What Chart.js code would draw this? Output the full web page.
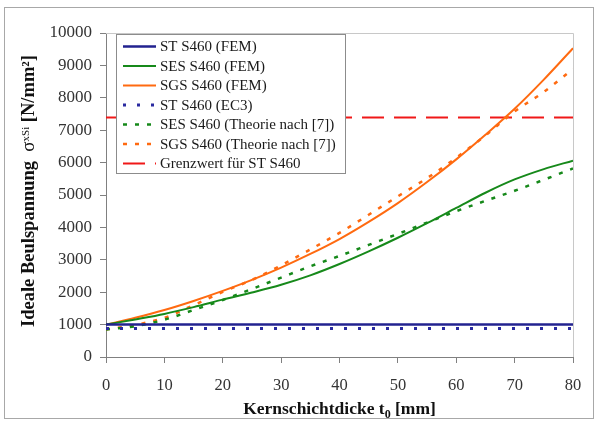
<!DOCTYPE html>
<html lang="de">
<head>
    <meta charset="UTF-8">
    <title>Ideale Beulspannung</title>
    <style>
        body, html {
            margin: 0;
            padding: 0;
            background: #ffffff;
            overflow: hidden;
        }
        #wrap {
            width: 599px;
            height: 423px;
        }
    </style>
</head>
<body>

<div id="wrap">
    <canvas id="chart" width="599" height="423"></canvas>
</div>

<script src="https://cdn.jsdelivr.net/npm/chart.js"></script>
<script>
    // Kernschichtdicke t0 [mm]
    const thickness = [0, 5, 10, 15, 20, 25, 30, 35, 40, 45, 50, 55, 60, 65, 70, 75, 80];

    // FEM results
    const stFem  = [1000, 1000, 1000, 1000, 1000, 1000, 1000, 1000, 1000, 1000, 1000, 1000, 1000, 1000, 1000, 1000, 1000];
    const sesFem = [1000, 1160, 1330, 1540, 1770, 1990, 2230, 2520, 2870, 3260, 3680, 4130, 4600, 5070, 5480, 5800, 6060];
    const sgsFem = [1000, 1210, 1450, 1730, 2040, 2380, 2760, 3180, 3640, 4170, 4750, 5400, 6100, 6860, 7660, 8560, 9530];

    // EC3 / theory
    const stEc3    = [880, 880, 880, 880, 880, 880, 880, 880, 880, 880, 880, 880, 880, 880, 880, 880, 880];
    const sesTheo  = [850, 950, 1150, 1450, 1760, 2100, 2450, 2800, 3120, 3460, 3800, 4150, 4500, 4820, 5130, 5470, 5820];
    const sgsTheo  = [850, 990, 1210, 1600, 2010, 2380, 2830, 3320, 3830, 4390, 4960, 5520, 6150, 6840, 7580, 8180, 8890];

    // Grenzwert
    const limitX = [0, 80];
    const limitY = [7390, 7390];

    const yTicks = [0, 1000, 2000, 3000, 4000, 5000, 6000, 7000, 8000, 9000, 10000];
    const xTicks = [0, 10, 20, 30, 40, 50, 60, 70, 80];

    const serif = "'Liberation Serif', 'Times New Roman', serif";

    function pts(xs, ys) {
        return xs.map((x, i) => ({ x: x, y: ys[i] }));
    }

    function line(label, xs, ys, color, width, dash) {
        return {
            label: label,
            data: pts(xs, ys),
            borderColor: color,
            backgroundColor: color,
            borderWidth: width,
            borderDash: dash,
            pointRadius: 0,
            fill: false,
            cubicInterpolationMode: 'monotone'
        };
    }

    const datasets = [
        line('ST S460 (FEM)', thickness, stFem, '#22228f', 2.5, []),
        line('SES S460 (FEM)', thickness, sesFem, '#16891a', 2, []),
        line('SGS S460 (FEM)', thickness, sgsFem, '#ff6a10', 2, []),
        line('ST S460 (EC3)', thickness, stEc3, '#2a2aa0', 3, [3, 11]),
        line('SES S460 (Theorie nach [7])', thickness, sesTheo, '#16891a', 2.5, [4, 8]),
        line('SGS S460 (Theorie nach [7])', thickness, sgsTheo, '#ff6a10', 2.5, [4, 8]),
        line('Grenzwert für ST S460', limitX, limitY, '#f01818', 2, [22, 10])
    ];

    // frame, axis titles and legend drawn by hand
    const decor = {
        id: 'decor',
        beforeDraw(chart) {
            const ctx = chart.ctx;
            ctx.save();
            ctx.fillStyle = '#ffffff';
            ctx.fillRect(0, 0, chart.width, chart.height);
            ctx.strokeStyle = '#a8a8a8';
            ctx.lineWidth = 1;
            ctx.strokeRect(4.5, 7.5, 589, 411);
            ctx.restore();
        },
        afterDatasetsDraw(chart) {
            const ctx = chart.ctx;
            const a = chart.chartArea;
            ctx.save();

            // light frame on top and right of plot
            ctx.strokeStyle = '#c8c8c8';
            ctx.lineWidth = 1;
            ctx.beginPath();
            ctx.moveTo(a.left, a.top + 0.5);
            ctx.lineTo(a.right + 0.5, a.top + 0.5);
            ctx.lineTo(a.right + 0.5, a.bottom);
            ctx.stroke();

            // legend
            const lx = 116, ly = 34, lw = 229, lh = 139;
            ctx.fillStyle = '#ffffff';
            ctx.fillRect(lx, ly, lw, lh);
            ctx.strokeStyle = '#8c8c8c';
            ctx.strokeRect(lx + 0.5, ly + 0.5, lw, lh);
            ctx.font = '15px ' + serif;
            ctx.textBaseline = 'middle';
            chart.data.datasets.forEach((ds, i) => {
                const y = 46.5 + i * 19.5;
                ctx.strokeStyle = ds.borderColor;
                ctx.lineWidth = ds.borderWidth;
                ctx.setLineDash(ds.borderDash);
                ctx.beginPath();
                ctx.moveTo(123, y);
                ctx.lineTo(156, y);
                ctx.stroke();
                ctx.setLineDash([]);
                ctx.fillStyle = '#1a1a1a';
                ctx.fillText(ds.label, 160, y + 1);
            });

            // x title
            ctx.fillStyle = '#111111';
            ctx.textBaseline = 'alphabetic';
            const xParts = [['Kernschichtdicke t', 'bold 17.5px ' + serif, 0],
                            ['0', 'bold 12px ' + serif, 4],
                            [' [mm]', 'bold 17.5px ' + serif, 0]];
            drawParts(ctx, xParts, (a.left + a.right) / 2, 414);

            // y title
            ctx.translate(28, 191);
            ctx.rotate(-Math.PI / 2);
            const yParts = [['Ideale Beulspannung  ', 'bold 18.5px ' + serif, 0],
                            ['σ', '19px ' + serif, 0],
                            ['xSi', '11px ' + serif, -5],
                            [' [N/mm²]', 'bold 18.5px ' + serif, 0]];
            drawParts(ctx, yParts, 0, 6);
            ctx.restore();
        }
    };

    function drawParts(ctx, parts, cx, baseY) {
        let total = 0;
        parts.forEach(p => { ctx.font = p[1]; total += ctx.measureText(p[0]).width; });
        let x = cx - total / 2;
        ctx.textAlign = 'left';
        parts.forEach(p => {
            ctx.font = p[1];
            ctx.fillText(p[0], x, baseY + p[2]);
            x += ctx.measureText(p[0]).width;
        });
    }

    const ctx = document.getElementById('chart').getContext('2d');
    new Chart(ctx, {
        type: 'line',
        data: { datasets: datasets },
        plugins: [decor],
        options: {
            responsive: false,
            animation: false,
            layout: { padding: { left: 0, top: 33, right: 26, bottom: 0 } },
            plugins: {
                legend: { display: false },
                tooltip: { enabled: false }
            },
            scales: {
                x: {
                    type: 'linear',
                    min: 0,
                    max: 80,
                    afterFit: s => { s.height = 66; },
                    afterBuildTicks: s => { s.ticks = xTicks.map(v => ({ value: v })); },
                    ticks: {
                        color: '#333333', font: { family: serif, size: 16.5 }, padding: 13, maxRotation: 0,
                        callback: v => String(v)
                    },
                    grid: { drawOnChartArea: false, tickLength: 6, color: '#808080' },
                    border: { color: '#808080' }
                },
                y: {
                    min: 0,
                    max: 10000,
                    afterFit: s => { s.width = 106; },
                    afterBuildTicks: s => { s.ticks = yTicks.map(v => ({ value: v })); },
                    ticks: {
                        color: '#333333', font: { family: serif, size: 17 }, padding: 8,
                        callback: v => String(v)
                    },
                    grid: { drawOnChartArea: false, tickLength: 6, color: '#808080' },
                    border: { color: '#808080' }
                }
            }
        }
    });
</script>

</body>
</html>
